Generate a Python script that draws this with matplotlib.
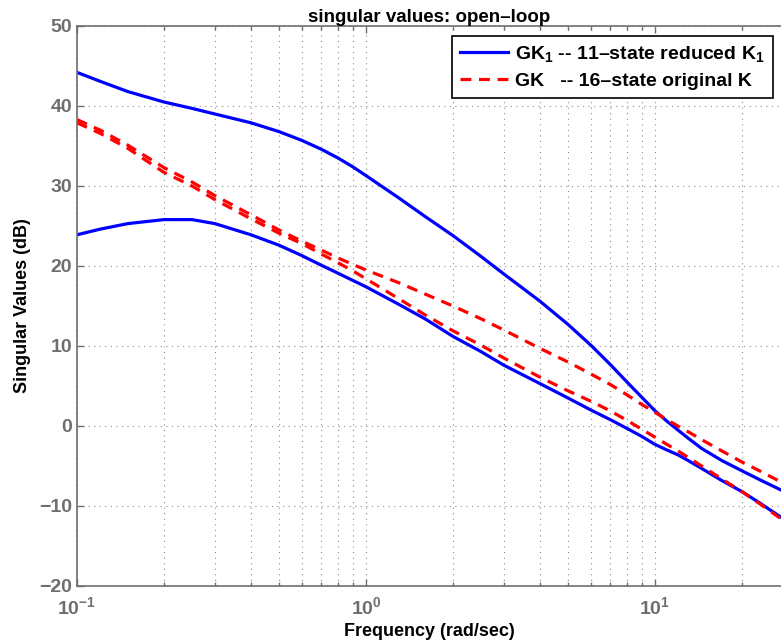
import numpy as np
import matplotlib
matplotlib.use("Agg")
import matplotlib.pyplot as plt
from matplotlib.ticker import FixedLocator, NullFormatter, LogLocator

plt.rcParams['font.family'] = ['Liberation Sans', 'DejaVu Sans']
plt.rcParams['font.weight'] = 'bold'
plt.rcParams['mathtext.fontset'] = 'custom'
plt.rcParams['mathtext.rm'] = 'Liberation Sans:bold'
plt.rcParams['mathtext.bf'] = 'Liberation Sans:bold'
plt.rcParams['mathtext.it'] = 'Liberation Sans:bold'
plt.rcParams['mathtext.default'] = 'rm'

# frequency points (rad/sec)
freq = [0.1, 0.12, 0.15, 0.2, 0.25, 0.3, 0.4, 0.5, 0.6, 0.7, 0.8, 0.9, 1.0, 1.3, 1.6,
        2.0, 2.5, 3.0, 4.0, 5.0, 6.0, 7.0, 8.0, 9.0, 10.0, 11.0, 12.0, 13.0, 14.5,
        17.0, 20.0, 23.0, 27.3]

# singular values (dB), reduced controller GK1
gk1_max = [44.2, 43.1, 41.8, 40.5, 39.7, 39.0, 37.9, 36.8, 35.7, 34.6, 33.5, 32.4, 31.3,
           28.5, 26.2, 23.8, 21.2, 19.0, 15.6, 12.7, 10.1, 7.7, 5.5, 3.6, 1.9, 0.6, -0.5,
           -1.5, -2.8, -4.3, -5.6, -6.7, -8.0]
gk1_min = [23.9, 24.6, 25.3, 25.8, 25.8, 25.3, 23.9, 22.6, 21.3, 20.1, 19.1, 18.2, 17.4,
           15.2, 13.4, 11.2, 9.3, 7.6, 5.3, 3.5, 2.0, 0.8, -0.3, -1.3, -2.3, -3.0, -3.6,
           -4.3, -5.3, -6.8, -8.2, -9.6, -11.4]

# singular values (dB), original controller GK
gk_max = [38.3, 37.0, 35.1, 32.3, 30.5, 28.8, 26.4, 24.5, 23.1, 22.0, 21.0, 20.2, 19.5,
          17.9, 16.5, 15.0, 13.4, 12.0, 9.7, 8.0, 6.5, 5.2, 3.9, 2.7, 1.7, 0.8, 0.0,
          -0.7, -1.7, -3.1, -4.5, -5.6, -7.0]
gk_min = [37.9, 36.6, 34.7, 31.7, 30.0, 28.3, 25.9, 24.1, 22.8, 21.5, 20.4, 19.4, 18.4,
          15.9, 13.9, 11.9, 10.1, 8.5, 6.1, 4.4, 3.1, 1.9, 0.7, -0.4, -1.4, -2.3, -3.1,
          -3.9, -5.0, -6.6, -8.2, -9.7, -11.6]

gray = '#6e6e6e'

fig = plt.figure(figsize=(7.81, 6.44), dpi=100)
ax = fig.add_axes([77 / 781, 58 / 644, 704 / 781, 560 / 644])

l1, = ax.semilogx(freq, gk1_max, color='#0000ff', lw=2.3)
ax.semilogx(freq, gk1_min, color='#0000ff', lw=2.3)
l2, = ax.semilogx(freq, gk_max, color='#ff0000', lw=2.3, ls=(0, (3.4, 2.4)))
ax.semilogx(freq, gk_min, color='#ff0000', lw=2.3, ls=(0, (3.4, 2.4)))

ax.set_xlim(0.1, 27.3)
ax.set_ylim(-20, 50)
ax.set_yticks(np.arange(-20, 51, 10))
ax.set_yticklabels([str(v).replace('-', '\u2212') for v in range(-20, 51, 10)])
ax.xaxis.set_major_locator(FixedLocator([0.1, 1, 10]))
ax.set_xticklabels([r'$10^{-1}$', r'$10^{0}$', r'$10^{1}$'])
ax.xaxis.set_minor_locator(LogLocator(base=10, subs=np.arange(2, 10), numticks=20))
ax.xaxis.set_minor_formatter(NullFormatter())

ax.grid(True, which='major', ls=(0, (1, 4)), color='#8c8c8c', lw=0.8)
ax.grid(True, which='minor', axis='x', ls=(0, (1, 4)), color='#8c8c8c', lw=0.8)

ax.tick_params(which='both', direction='in', top=True, right=False, colors=gray,
               labelsize=14, width=1.0)
ax.tick_params(which='major', length=5)
ax.tick_params(which='minor', length=3)
ax.tick_params(axis='x', pad=7)
for lab in ax.get_xticklabels() + ax.get_yticklabels():
    lab.set_fontweight('bold')
for s in ['left', 'bottom', 'top']:
    ax.spines[s].set_color(gray)
    ax.spines[s].set_linewidth(1.2)
ax.spines['right'].set_visible(False)

ax.set_title('singular values: open\u2013loop', fontsize=13.5, fontweight='bold', pad=3)
ax.set_xlabel('Frequency (rad/sec)', fontsize=13, fontweight='bold', labelpad=4)
ax.set_ylabel('Singular Values (dB)', fontsize=13, fontweight='bold', labelpad=6)

leg = ax.legend([l1, l2],
                ['GK$_1$ -- 11\u2013state reduced K$_1$',
                 'GK   -- 16\u2013state original K'],
                loc='upper right', bbox_to_anchor=(0.988, 0.982), fontsize=14,
                frameon=True, fancybox=False, framealpha=1, edgecolor='black',
                handlelength=2.5, handletextpad=0.35, borderpad=0.4, labelspacing=0.45,
                borderaxespad=0)
leg.get_frame().set_linewidth(1.2)
for t in leg.get_texts():
    t.set_fontweight('bold')

fig.savefig('out.png', dpi=100)
